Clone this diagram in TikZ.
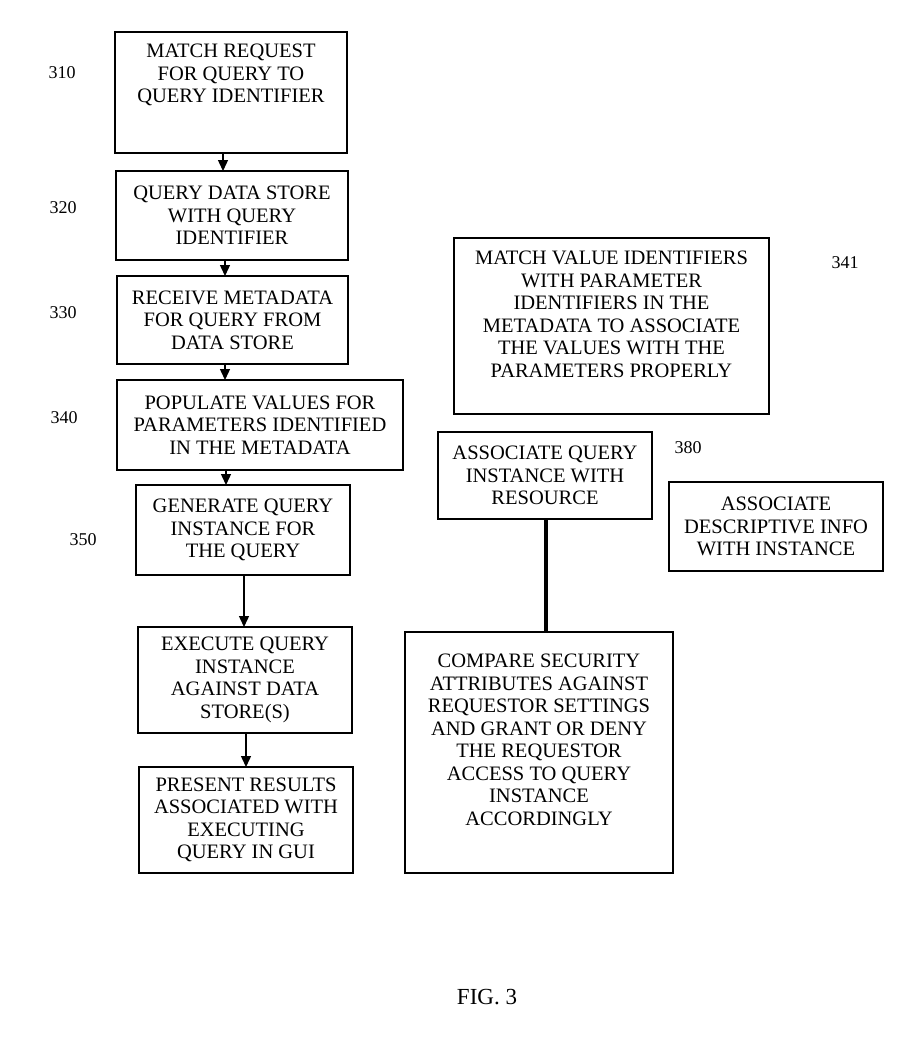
\documentclass[tikz,border=0pt]{standalone}
\usepackage{fontspec}
\setmainfont{Liberation Serif}
\usetikzlibrary{arrows.meta}
\tikzset{
  stepbox/.style={draw, line width=1.4pt, inner sep=0pt, outer sep=0pt, align=center,
    font=\fontsize{20.5}{22.5}\selectfont},
  reflabel/.style={font=\fontsize{18}{20}\selectfont, inner sep=0pt},
  arr/.style={line width=1.4pt, -{Triangle[width=10pt,length=11pt]}},
  thickline/.style={line width=4.5pt}
}
\begin{document}
\begin{tikzpicture}[x=1pt,y=-1pt]
\useasboundingbox[fill=white] (0,0) rectangle (907,1039);
% left column
\node[stepbox, minimum width=232pt, minimum height=121pt, text depth=38pt] (b310) at (231,92.5)
  {MATCH REQUEST\\FOR QUERY TO\\QUERY IDENTIFIER};
\node[stepbox, minimum width=232pt, minimum height=89pt] (b320) at (232,215.5)
  {QUERY DATA STORE\\WITH QUERY\\IDENTIFIER};
\node[stepbox, minimum width=231pt, minimum height=88pt] (b330) at (232.5,320)
  {RECEIVE METADATA\\FOR QUERY FROM\\DATA STORE};
\node[stepbox, minimum width=286pt, minimum height=90pt] (b340) at (260,425)
  {POPULATE VALUES FOR\\PARAMETERS IDENTIFIED\\IN THE METADATA};
\node[stepbox, minimum width=214pt, minimum height=90pt] (b350) at (243,530)
  {GENERATE QUERY\\INSTANCE FOR\\THE QUERY};
\node[stepbox, minimum width=214pt, minimum height=106pt] (b360) at (245,680)
  {EXECUTE QUERY\\INSTANCE\\AGAINST DATA\\STORE(S)};
\node[stepbox, minimum width=214pt, minimum height=106pt] (b370) at (246,820)
  {PRESENT RESULTS\\ASSOCIATED WITH\\EXECUTING\\QUERY IN GUI};
% right column
\node[stepbox, minimum width=315pt, minimum height=176pt, text depth=24pt] (b341) at (611.5,326)
  {MATCH VALUE IDENTIFIERS\\WITH PARAMETER\\IDENTIFIERS IN THE\\METADATA TO ASSOCIATE\\THE VALUES WITH THE\\PARAMETERS PROPERLY};
\node[stepbox, minimum width=214pt, minimum height=87pt] (b380) at (545,475.5)
  {ASSOCIATE QUERY\\INSTANCE WITH\\RESOURCE};
\node[stepbox, minimum width=214pt, minimum height=89pt] (b390) at (776,526.5)
  {ASSOCIATE\\DESCRIPTIVE INFO\\WITH INSTANCE};
\node[stepbox, minimum width=268pt, minimum height=241pt, text depth=26pt] (b385) at (539,752.5)
  {COMPARE SECURITY\\ATTRIBUTES AGAINST\\REQUESTOR SETTINGS\\AND GRANT OR DENY\\THE REQUESTOR\\ACCESS TO QUERY\\INSTANCE\\ACCORDINGLY};
% reference labels
\node[reflabel] (l310) at (62,73) {310};
\node[reflabel] (l320) at (63,208) {320};
\node[reflabel] (l330) at (63,313) {330};
\node[reflabel] (l340) at (64,418) {340};
\node[reflabel] (l350) at (83,540) {350};
\node[reflabel] (l341) at (845,263) {341};
\node[reflabel] (l380) at (688,448) {380};
\node[font=\fontsize{23}{26}\selectfont, inner sep=0pt] (fig) at (487,997) {FIG. 3};
% connectors
\draw[arr] ([xshift=-8pt]b310.south) -- ([xshift=-8pt]b310.south |- b320.north);
\draw[arr] ([xshift=-7pt]b320.south) -- ([xshift=-7pt]b320.south |- b330.north);
\draw[arr] ([xshift=-7.5pt]b330.south) -- ([xshift=-7.5pt]b330.south |- b340.north);
\draw[arr] ([xshift=-34pt]b340.south) -- ([xshift=-34pt]b340.south |- b350.north);
\draw[arr] ([xshift=1pt]b350.south) -- ([xshift=1pt]b350.south |- b360.north);
\draw[arr] ([xshift=1pt]b360.south) -- ([xshift=1pt]b360.south |- b370.north);
\draw[thickline] ([xshift=1pt]b380.south) -- ([xshift=1pt]b380.south |- b385.north);
\end{tikzpicture}
\end{document}
